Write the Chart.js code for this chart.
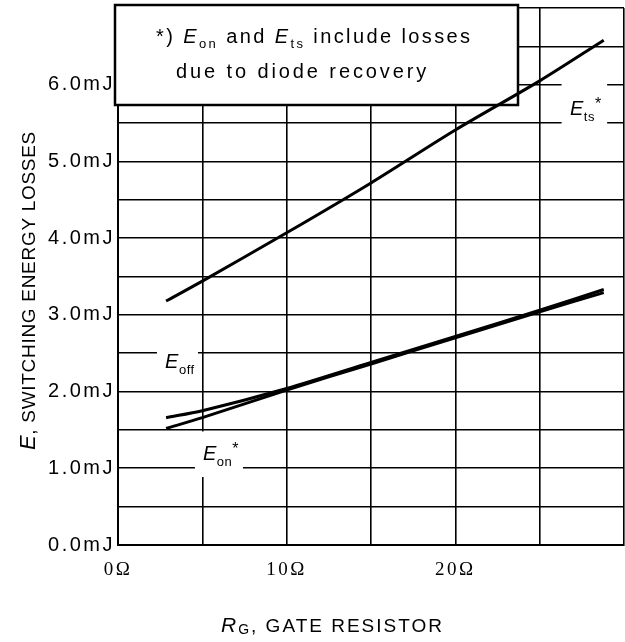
<!DOCTYPE html>
<html lang="en">
<head>
    <meta charset="UTF-8">
    <title>Switching energy losses vs gate resistor</title>
    <script src="https://cdn.jsdelivr.net/npm/chart.js"></script>
    <style>
        body { margin: 0; background: #fff; }
        .wrap { position: relative; width: 625px; height: 642px; }
    </style>
</head>
<body>
    <div class="wrap"><canvas id="chart"></canvas></div>

    <script>
        // values (ohm / mJ)
        const gateResistance = [2.85, 5, 10, 15, 20, 25, 28.8];
        const etsValues  = [3.18, 3.44, 4.07, 4.72, 5.41, 6.05, 6.58];
        const eoffValues = [1.66, 1.75, 2.04, 2.38, 2.72, 3.06, 3.33];
        const eonValues  = [1.52, 1.66, 2.02, 2.36, 2.70, 3.04, 3.29];

        const yTickLabels = ['0.0mJ', '1.0mJ', '2.0mJ', '3.0mJ', '4.0mJ', '5.0mJ', '6.0mJ'];
        const xTickValues = [0, 10, 20];
        const xTickLabels = ['0Ω', '10Ω', '20Ω'];

        const SANS = '"Liberation Sans", Arial, Helvetica, sans-serif';
        const SERIF = '"Liberation Serif", "Times New Roman", serif';

        function points(ys) {
            return gateResistance.map((x, i) => ({ x: x, y: ys[i] }));
        }

        // draw a row of text pieces: [text, font, dy]
        function drawRuns(ctx, x, y, runs) {
            let cx = x;
            runs.forEach(([t, font, dy]) => {
                ctx.font = font;
                ctx.fillText(t, cx, y + (dy || 0));
                cx += ctx.measureText(t).width;
            });
            return cx - x;
        }

        // curve labels, placed in axis units
        const curveLabels = [
            { box: [26.3, 6.036, 29.0, 5.475], at: [26.8, 5.6], sub: 'ts', star: true },
            { box: [2.31, 2.67, 4.74, 2.03], at: [2.79, 2.307], sub: 'off', star: false },
            { box: [4.56, 1.48, 7.41, 0.886], at: [5.04, 1.108], sub: 'on', star: true }
        ];

        const decorations = {
            id: 'decorations',
            beforeDraw(chart) {
                chart.ctx.letterSpacing = '2.5px';
            },
            beforeDatasetsDraw(chart) {
                const ctx = chart.ctx;
                const xs = chart.scales.x, ys = chart.scales.y;
                ctx.save();
                ctx.textBaseline = 'alphabetic';
                ctx.textAlign = 'left';

                // note box
                ctx.fillStyle = '#fff';
                ctx.fillRect(115, 5, 403, 100);
                ctx.strokeStyle = '#000';
                ctx.lineWidth = 2.5;
                ctx.strokeRect(115, 5, 403, 100);
                ctx.fillStyle = '#000';
                ctx.letterSpacing = '2.4px';
                drawRuns(ctx, 156, 43, [
                    ['*) ', '20px ' + SANS],
                    ['E', 'italic 20px ' + SANS],
                    ['on', '13px ' + SANS, 5],
                    [' and ', '20px ' + SANS],
                    ['E', 'italic 20px ' + SANS],
                    ['ts', '13px ' + SANS, 5],
                    [' include losses', '20px ' + SANS]
                ]);
                ctx.letterSpacing = '2.9px';
                drawRuns(ctx, 176, 78, [['due to diode recovery', '20px ' + SANS]]);

                // curve labels on white patches
                ctx.letterSpacing = '0.5px';
                curveLabels.forEach(l => {
                    const x0 = xs.getPixelForValue(l.box[0]), y0 = ys.getPixelForValue(l.box[1]);
                    const x1 = xs.getPixelForValue(l.box[2]), y1 = ys.getPixelForValue(l.box[3]);
                    ctx.fillStyle = '#fff';
                    ctx.fillRect(x0, y0, x1 - x0, y1 - y0);
                    ctx.fillStyle = '#000';
                    const runs = [
                        ['E', 'italic 20px ' + SANS],
                        [l.sub, '13px ' + SANS, 6]
                    ];
                    if (l.star) runs.push(['*', '16px ' + SANS, -6]);
                    drawRuns(ctx, xs.getPixelForValue(l.at[0]), ys.getPixelForValue(l.at[1]), runs);
                });
                ctx.restore();
            },
            afterDraw(chart) {
                const ctx = chart.ctx;
                ctx.save();
                ctx.fillStyle = '#000';
                ctx.textAlign = 'left';
                ctx.textBaseline = 'alphabetic';

                // x axis title
                ctx.letterSpacing = '2px';
                drawRuns(ctx, 221, 632, [
                    ['R', 'italic 21px ' + SANS],
                    ['G', '14px ' + SANS, 2],
                    [', GATE RESISTOR', '19px ' + SANS]
                ]);

                // y axis title
                ctx.translate(35, 450);
                ctx.rotate(-Math.PI / 2);
                ctx.letterSpacing = '0.7px';
                drawRuns(ctx, 0, 0, [
                    ['E', 'italic 22px ' + SANS],
                    [', SWITCHING ENERGY LOSSES', '19px ' + SANS]
                ]);
                ctx.restore();
            }
        };

        const lineStyle = { borderColor: '#000', borderWidth: 3, pointRadius: 0, tension: 0.3, fill: false };

        new Chart(document.getElementById('chart'), {
            type: 'line',
            data: {
                datasets: [
                    Object.assign({ label: 'Ets*', data: points(etsValues) }, lineStyle),
                    Object.assign({ label: 'Eoff', data: points(eoffValues) }, lineStyle),
                    Object.assign({ label: 'Eon*', data: points(eonValues) }, lineStyle)
                ]
            },
            options: {
                responsive: true,
                maintainAspectRatio: false,
                animation: false,
                layout: { padding: { left: 0, right: 1, top: 8, bottom: 0 } },
                plugins: {
                    legend: { display: false },
                    tooltip: { enabled: false }
                },
                scales: {
                    x: {
                        type: 'linear',
                        min: 0,
                        max: 30,
                        afterFit: s => {
                            s.height = 97;
                            s.paddingLeft = 0;
                            s.paddingRight = 0;
                        },
                        grid: { color: '#000', lineWidth: 1.6, drawTicks: false },
                        border: { color: '#000', width: 2 },
                        ticks: {
                            stepSize: 5,
                            autoSkip: false,
                            maxRotation: 0,
                            padding: 14,
                            color: '#000',
                            font: { family: SERIF, size: 19 },
                            callback: v => {
                                const i = xTickValues.indexOf(v);
                                return i >= 0 ? xTickLabels[i] : '';
                            }
                        }
                    },
                    y: {
                        min: 0,
                        max: 7,
                        afterFit: s => {
                            s.width = 118;
                            s.paddingTop = 0;
                            s.paddingBottom = 0;
                        },
                        grid: { color: '#000', lineWidth: 1.6, drawTicks: false },
                        border: { color: '#000', width: 2 },
                        ticks: {
                            stepSize: 0.5,
                            autoSkip: false,
                            padding: 3,
                            color: '#000',
                            font: { family: SANS, size: 20 },
                            callback: v => (Number.isInteger(v) && v < yTickLabels.length) ? yTickLabels[v] : ''
                        }
                    }
                }
            },
            plugins: [decorations]
        });
    </script>
</body>
</html>
